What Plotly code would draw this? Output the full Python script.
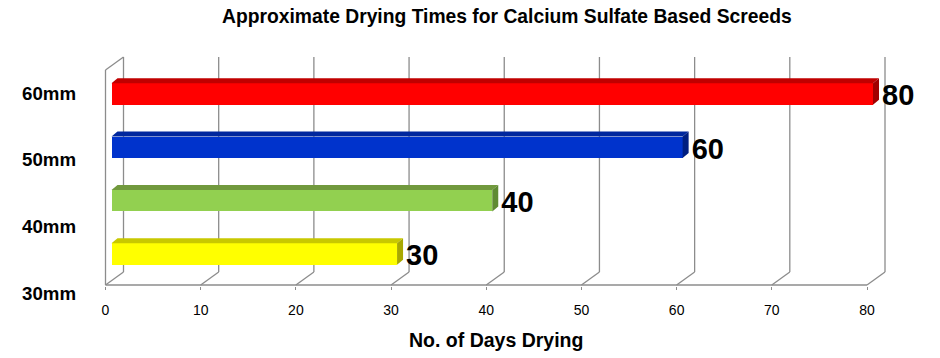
import plotly.graph_objects as go

# ---- data ----
categories = ["30mm", "40mm", "50mm", "60mm"]
days = [30, 40, 60, 80]
tick_values = [0, 10, 20, 30, 40, 50, 60, 70, 80]
title_text = "Approximate Drying Times for Calcium Sulfate Based Screeds"
x_title = "No. of Days Drying"

# ---- styles ----
front_colors = ["#FFFF00", "#92D050", "#0033CC", "#FF0000"]
top_colors = ["#C8C800", "#71993D", "#00279E", "#C00000"]
side_colors = ["#A8A800", "#5F8A32", "#001E80", "#A00000"]
GRID = "#8C8C8C"
FONT = "Liberation Sans, Arial, sans-serif"

W, H = 940, 358
PLOT_TOP, PLOT_BOTTOM = 40, 286          # px
M_L, M_R = 0, 0
M_T = PLOT_TOP
M_B = H - PLOT_BOTTOM
PLOT_H = H - M_T - M_B

FRONT_X0 = 105.5            # pixel of day 0 on the front plane
PX_PER_DAY = 761.5 / 80
ROW_PX = 53.33              # pixels between bar rows
TOP_ROW_PX = 94             # pixel centre of the top bar

xmin = -FRONT_X0 / PX_PER_DAY
xmax = xmin + W / PX_PER_DAY
ymax = (len(categories) - 1) + (TOP_ROW_PX - PLOT_TOP) / ROW_PX
ymin = ymax - PLOT_H / ROW_PX


def dx(px):
    return px / PX_PER_DAY


def dyu(px):
    return px / ROW_PX


def yp(px):
    return ymax - (px - PLOT_TOP) / ROW_PX


def paper_y(px):
    return (PLOT_BOTTOM - px) / PLOT_H


def paper_x(px):
    return px / W


WALL_DX = 18                # depth of the box, px
FLOOR_FRONT, FLOOR_BACK, WALL_TOP_BACK, WALL_TOP_FRONT = 285, 272, 57, 70
BAR_SHIFT = 6.0             # bar front face offset from front plane, px
BAR_H = 21.5                # bar front face height, px
BAR_DX, BAR_DY = 6, 5       # bar depth, px
LBL_TOP_PX, LBL_BOT_PX, LBL_RIGHT_PX = 93, 293, 78

rows = list(range(len(categories)))
base = dx(BAR_SHIFT)
half = dyu(BAR_H) / 2

fig = go.Figure()

# back wall, floor and frame
shapes = []
line = dict(color=GRID, width=1.3)
for t in tick_values:
    shapes.append(dict(type="line", xref="x", yref="y", x0=t + dx(WALL_DX), x1=t + dx(WALL_DX),
                       y0=yp(FLOOR_BACK), y1=yp(WALL_TOP_BACK), line=line, layer="below"))
    shapes.append(dict(type="line", xref="x", yref="y", x0=t, x1=t + dx(WALL_DX),
                       y0=yp(FLOOR_FRONT), y1=yp(FLOOR_BACK), line=line, layer="below"))
shapes.append(dict(type="line", xref="x", yref="y", x0=tick_values[0], x1=tick_values[-1],
                   y0=yp(FLOOR_FRONT), y1=yp(FLOOR_FRONT), line=line, layer="below"))
shapes.append(dict(type="line", xref="x", yref="y", x0=0, x1=0,
                   y0=yp(FLOOR_FRONT), y1=yp(WALL_TOP_FRONT), line=line, layer="below"))
shapes.append(dict(type="line", xref="x", yref="y", x0=0, x1=dx(WALL_DX),
                   y0=yp(WALL_TOP_FRONT), y1=yp(WALL_TOP_BACK), line=line, layer="below"))

# bar front faces
fig.add_trace(go.Bar(orientation="h", x=days, y=rows, base=base, width=dyu(BAR_H),
                     marker=dict(color=front_colors, line=dict(width=0)),
                     hoverinfo="x+text", hovertext=categories, showlegend=False))

# bar top and side faces
for r, v, tc, sc in zip(rows, days, top_colors, side_colors):
    x0, x1 = base, base + v
    yt, yb = r + half, r - half
    fig.add_trace(go.Scatter(
        x=[x0, x1, x1 + dx(BAR_DX), x0 + dx(BAR_DX), x0],
        y=[yt, yt, yt + dyu(BAR_DY), yt + dyu(BAR_DY), yt],
        fill="toself", fillcolor=tc, mode="lines", line=dict(width=0, color=tc),
        hoverinfo="skip", showlegend=False))
    fig.add_trace(go.Scatter(
        x=[x1, x1 + dx(BAR_DX), x1 + dx(BAR_DX), x1, x1],
        y=[yt, yt + dyu(BAR_DY), yb + dyu(BAR_DY), yb, yt],
        fill="toself", fillcolor=sc, mode="lines", line=dict(width=0, color=sc),
        hoverinfo="skip", showlegend=False))

# value labels
fig.add_trace(go.Scatter(
    x=[base + v + dx(BAR_DX + 3) for v in days], y=[r - dyu(4) for r in rows],
    mode="text", text=["<b>%d</b>" % v for v in days], textposition="middle right",
    textfont=dict(family=FONT, size=29, color="#000000"),
    cliponaxis=False, hoverinfo="skip", showlegend=False))

# category labels (Excel 3-D layout spreads them independently of the bars)
step = (LBL_BOT_PX - LBL_TOP_PX) / (len(categories) - 1)
annotations = []
for i, cat in enumerate(categories):
    annotations.append(dict(text="<b>%s</b>" % cat, xref="paper", yref="paper",
                            x=paper_x(LBL_RIGHT_PX), y=paper_y(LBL_BOT_PX - i * step),
                            xanchor="right", yanchor="middle", showarrow=False,
                            font=dict(family=FONT, size=18.7, color="#000000")))
annotations.append(dict(text="<b>%s</b>" % x_title, xref="paper", yref="paper", x=paper_x(496),
                        y=paper_y(340), xanchor="center", yanchor="middle", showarrow=False,
                        font=dict(family=FONT, size=19.5, color="#000000")))
annotations.append(dict(text="<b>%s</b>" % title_text, xref="paper", yref="paper", x=paper_x(507),
                        y=paper_y(17), xanchor="center", yanchor="middle", showarrow=False,
                        font=dict(family=FONT, size=19.3, color="#000000")))

fig.update_layout(
    width=W, height=H, margin=dict(l=M_L, r=M_R, t=M_T, b=M_B, autoexpand=False),
    paper_bgcolor="white", plot_bgcolor="white", template="none",
    shapes=shapes, bargap=0, annotations=annotations,
    xaxis=dict(range=[xmin, xmax], domain=[0, 1], automargin=False,
               tickmode="array", tickvals=tick_values, ticktext=[str(t) for t in tick_values],
               ticks="outside", ticklen=3, tickwidth=1.3, tickcolor=GRID,
               ticklabelstandoff=8,
               showgrid=False, zeroline=False, showline=False,
               tickfont=dict(family=FONT, size=14, color="#000000"), fixedrange=True),
    yaxis=dict(range=[ymin, ymax], visible=False, showgrid=False, zeroline=False,
               automargin=False, fixedrange=True),
)

fig.write_html("out.html", config={"displayModeBar": False},
               post_script="document.body.style.margin='0';")
